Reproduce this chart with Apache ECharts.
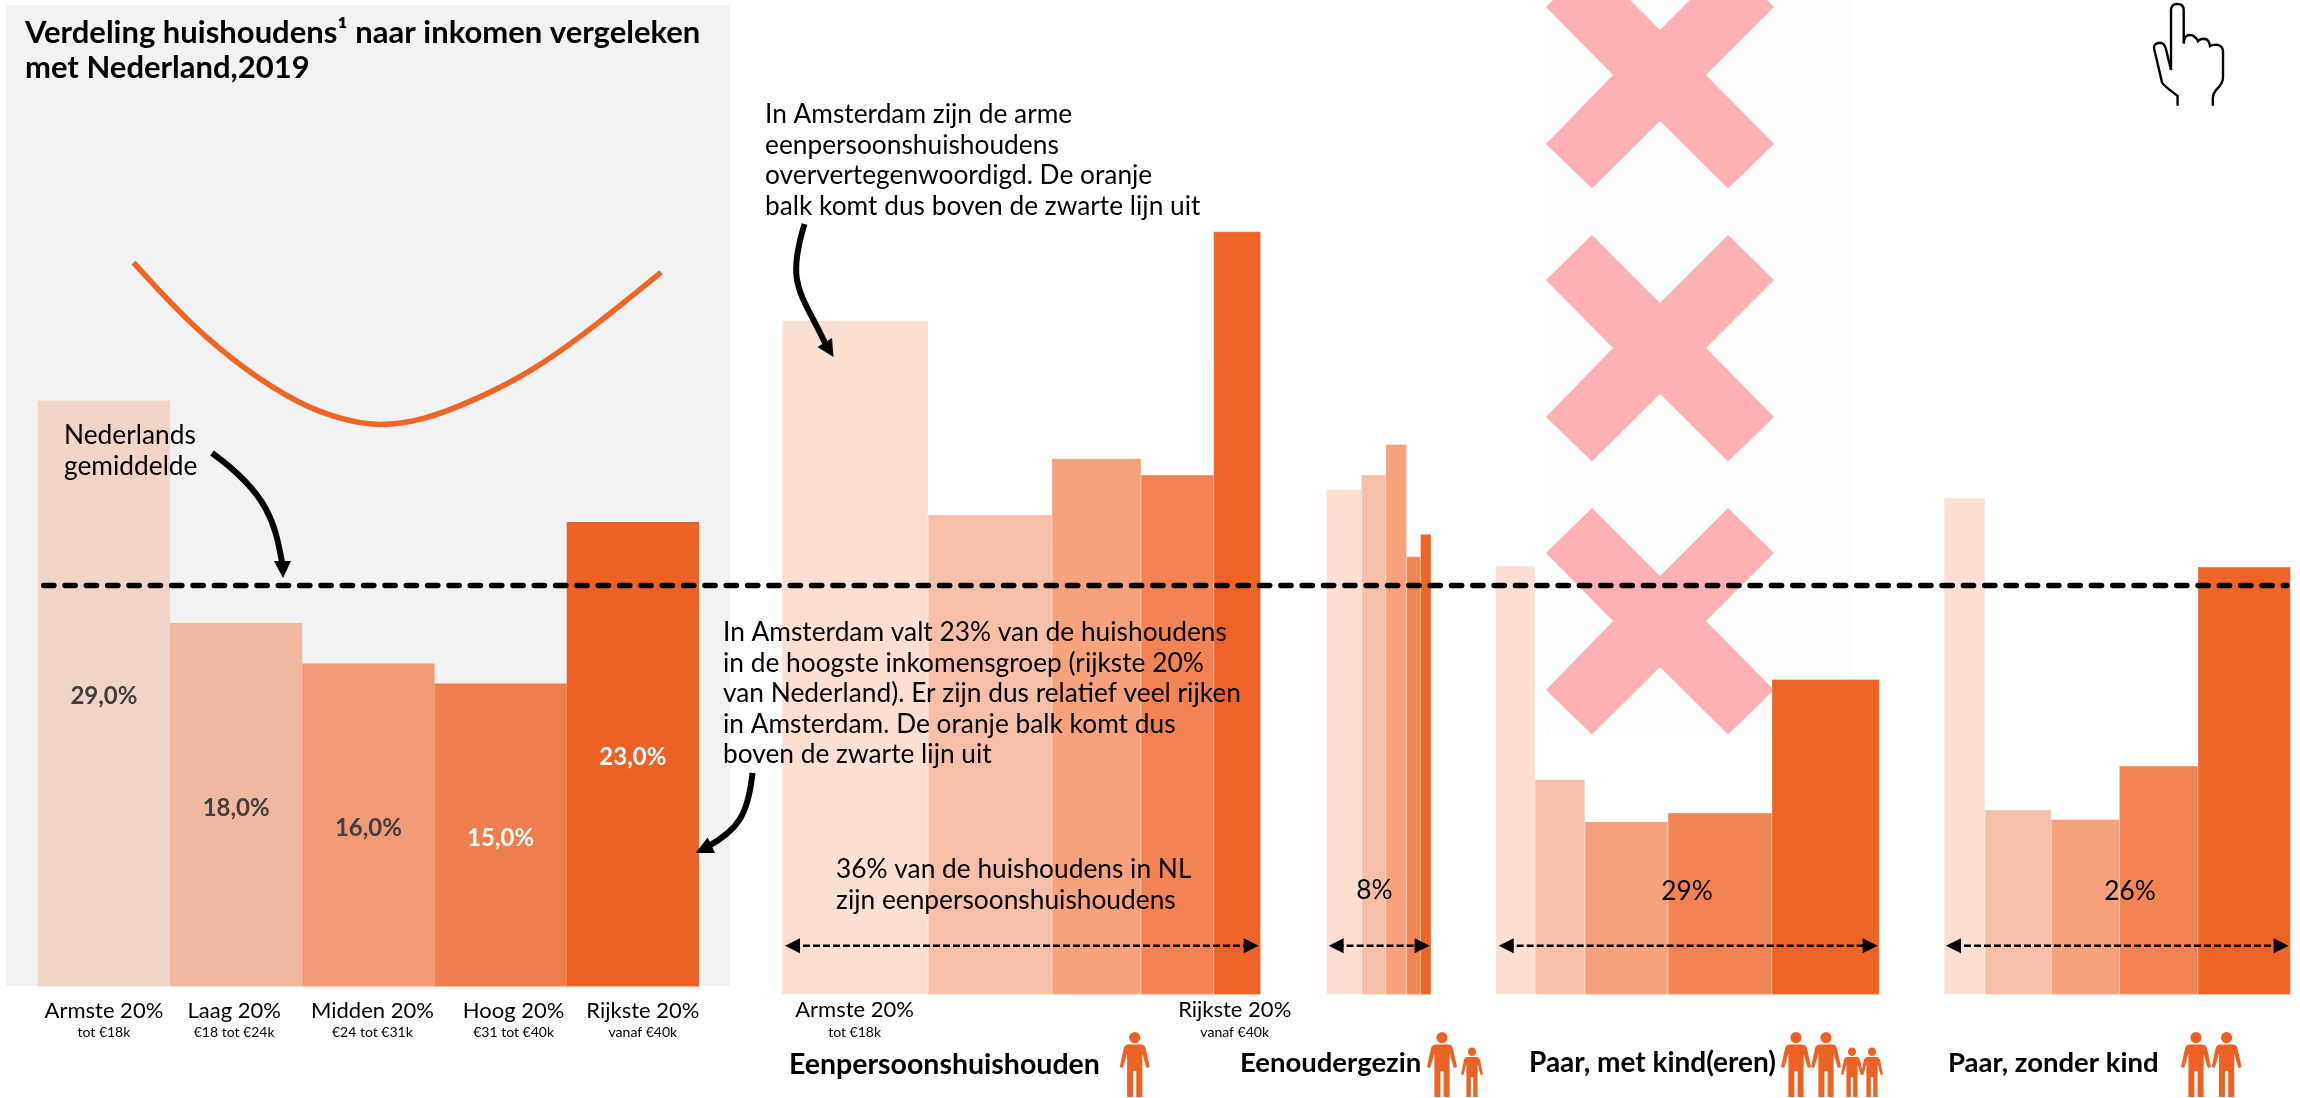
<!DOCTYPE html>
<html>
<head>
<meta charset="utf-8">
<script src="https://cdn.jsdelivr.net/npm/echarts@6/dist/echarts.min.js"></script>
<style>
  html, body { margin: 0; padding: 0; background: #fff; }
  #chart { width: 2300px; height: 1098px; }
</style>
</head>
<body>
<div id="chart"></div>
<script>
// data
const categories = ['Armste 20%', 'Laag 20%', 'Midden 20%', 'Hoog 20%', 'Rijkste 20%']
const incomeRanges = ['tot €18k', '€18 tot €24k', '€24 tot €31k', '€31 tot €40k', 'vanaf €40k']
const nlValues = [29, 18, 16, 15, 23]
const nlAverage = 20

// the orange curve in the grey panel: x in bar units, y in %
const curveX = [0.724, 1.162, 1.567, 1.971, 2.296, 2.593, 2.917, 3.32, 3.73, 4.133, 4.713]
const curveY = [35.84, 32.84, 30.61, 28.95, 28.13, 27.83, 28.13, 29.12, 30.52, 32.34, 35.36]

// bar width = share within the household type, bar height = value
const eenpersoonWidths = [30.5, 25.9, 18.6, 15.2, 9.8]
const eenpersoonValues = [32.95, 23.45, 26.2, 25.4, 37.3]
const eenouderWidths = [33.5, 23.2, 19.9, 13.4, 10]
const eenouderValues = [24.7, 25.4, 26.9, 21.4, 22.5]
const metKindWidths = [10.2, 13, 21.7, 27.1, 28]
const metKindValues = [20.95, 10.5, 8.45, 8.87, 15.4]
const zonderKindWidths = [11.8, 19.1, 19.7, 22.7, 26.7]
const zonderKindValues = [24.27, 9.02, 8.56, 11.17, 20.9]

const nlColors = ['#F1D4C8', '#F1B8A0', '#F09A76', '#EE7E4E', '#EC6225']
const typeColors = ['#FCDFD3', '#F8BFA7', '#F5A27D', '#F28354', '#EE6326']
const labelColors = ['#404040', '#404040', '#404040', '#fff', '#fff']
const labelShift = [0, -2, 4, 13, 10]

const FONT = 'Lato, "Open Sans", sans-serif'
const BLACK = '#000'
const ORANGE = '#EC6225'

function buildRows(widths, values) {
  let start = 0
  return widths.map((w, i) => {
    const row = [start, start + w, values[i]]
    start += w
    return row
  })
}

function renderRect(params, api) {
  const p0 = api.coord([api.value(0), api.value(2)])
  const p1 = api.coord([api.value(1), 0])
  return {
    type: 'rect',
    shape: { x: p0[0], y: p0[1], width: p1[0] - p0[0], height: p1[1] - p0[1] },
    style: { fill: typeColors[params.dataIndex], stroke: 'rgba(255,255,255,0.35)', lineWidth: 1 },
  }
}

// graphic helpers
function text(lines, x, y, opt = {}) {
  const step = opt.step || 30.4
  return [].concat(lines).map((line, i) => ({
    type: 'text',
    z: 100,
    style: {
      text: line,
      x: x,
      y: y + i * step,
      align: opt.align || 'left',
      verticalAlign: 'middle',
      fill: opt.fill || BLACK,
      font: (opt.weight || 'normal') + ' ' + (opt.size || 26.3) + 'px ' + FONT,
    },
  }))
}

function curveArrow(x1, y1, c1x, c1y, c2x, c2y, x2, y2, head) {
  return [
    {
      type: 'bezierCurve',
      z: 90,
      shape: { x1, y1, cpx1: c1x, cpy1: c1y, cpx2: c2x, cpy2: c2y, x2, y2 },
      style: { stroke: BLACK, lineWidth: 6, fill: null },
    },
    { type: 'polygon', z: 90, shape: { points: head }, style: { fill: BLACK } },
  ]
}

function spanArrow(x1, x2, y) {
  return [
    {
      type: 'line',
      z: 90,
      shape: { x1: x1 + 8, y1: y, x2: x2 - 8, y2: y },
      style: { stroke: BLACK, lineWidth: 2.6, lineDash: [7, 3] },
    },
    { type: 'polygon', z: 90, shape: { points: [[x1, y], [x1 + 15, y - 7.5], [x1 + 15, y + 7.5]] }, style: { fill: BLACK } },
    { type: 'polygon', z: 90, shape: { points: [[x2, y], [x2 - 15, y - 7.5], [x2 - 15, y + 7.5]] }, style: { fill: BLACK } },
  ]
}

function cross(cx, cy) {
  const pts = [
    [0, -45], [68, -113], [114, -68], [46, 0], [114, 69], [68, 113.5],
    [0, 46], [-68, 113.5], [-114, 69], [-47, 0], [-114, -68], [-68, -113],
  ]
  return {
    type: 'polygon',
    z: 1,
    shape: { points: pts.map((p) => [cx + p[0], cy + p[1]]) },
    style: { fill: '#FFB0B4' },
  }
}

const PERSON_PATH =
  'M15 0a5.6 5.6 0 1 0 0.01 0ZM9 12.5L21 12.5Q25 12.5 26 16.5L30 35L26.8 36L22.6 21.5L22.6 65L16.6 65L16.6 39L13.4 39L13.4 65L7.4 65L7.4 21.5L3.2 36L0 35L4 16.5Q5 12.5 9 12.5Z'

// pictograms under the household types: centre x, kid flag
const people = [
  [1134.7, 0], [1442, 0], [1472, 1],
  [1796, 0], [1826, 0], [1852, 1], [1872, 1],
  [2196, 0], [2226.6, 0],
]

function renderPerson(params, api) {
  const cx = api.value(0)
  const kid = api.value(1) === 1
  const w = kid ? 22 : 30
  const top = kid ? 1047.5 : 1032
  return {
    type: 'path',
    shape: { pathData: PERSON_PATH, layout: 'cover', x: cx - w / 2, y: top, width: w, height: 1097 - top },
    style: { fill: ORANGE },
  }
}

const HAND_PATHS = [
  { d: 'M2171 70L2171 10Q2171 4 2177.3 4Q2183.7 4 2183.7 10L2183.7 43.6Q2184 35 2189.8 35Q2195 35 2198 41.2Q2200 38.8 2204 38.8Q2209 39 2210 46Q2212 44.6 2216.8 44.6Q2223 46 2223 51L2223 77.6Q2223 84 2216 90Q2212.8 94 2212.8 98L2212.8 105.7', x: 2171, y: 4, w: 52, h: 101.7 },
  { d: 'M2171 70L2165.8 48.5Q2164 42.7 2160 42.7Q2153.5 43 2154 48.5L2162 82.4Q2163 85 2177.6 96L2177.6 105.7', x: 2154, y: 42.7, w: 23.6, h: 63 },
]

function renderHand(params) {
  const h = HAND_PATHS[params.dataIndex]
  return {
    type: 'path',
    shape: { pathData: h.d, layout: 'cover', x: h.x, y: h.y, width: h.w, height: h.h },
    style: { stroke: BLACK, lineWidth: 2.4, fill: null },
  }
}

const graphic = [
  // grey panel, faint flag background, crosses
  { type: 'rect', z: 0, shape: { x: 6, y: 5, width: 724, height: 981 }, style: { fill: '#F2F2F2' } },
  { type: 'rect', z: 0, shape: { x: 1546, y: 0, width: 306, height: 735 }, style: { fill: '#FDFDFD' } },
  cross(1660, 75),
  cross(1660, 348),
  cross(1660, 621),
]
  .concat(text(['Verdeling huishoudens¹ naar inkomen vergeleken', 'met Nederland,2019'], 25, 33, { size: 31, weight: 'bold', step: 35 }))
  .concat(text(['Nederlands', 'gemiddelde'], 64, 436))
  .concat(text(['In Amsterdam zijn de arme', 'eenpersoonshuishoudens', 'oververtegenwoordigd. De oranje', 'balk komt dus boven de zwarte lijn uit'], 765, 115))
  .concat(text(['In Amsterdam valt 23% van de huishoudens', 'in de hoogste inkomensgroep (rijkste 20%', 'van Nederland). Er zijn dus relatief veel rijken', 'in Amsterdam. De oranje balk komt dus', 'boven de zwarte lijn uit'], 723, 633))
  .concat(text(['36% van de huishoudens in NL', 'zijn eenpersoonshuishoudens'], 836, 870, { step: 31 }))
  .concat(text('8%', 1374.5, 891, { align: 'center' }))
  .concat(text('29%', 1687, 892, { align: 'center' }))
  .concat(text('26%', 2130, 892, { align: 'center' }))
  .concat(text(categories[0], 854.6, 1010, { align: 'center', size: 22 }))
  .concat(text(incomeRanges[0], 854.6, 1032, { align: 'center', size: 14 }))
  .concat(text(categories[4], 1234.7, 1010, { align: 'center', size: 22 }))
  .concat(text(incomeRanges[4], 1234.7, 1032, { align: 'center', size: 14 }))
  .concat(text('Eenpersoonshuishouden', 789, 1065, { size: 28.5, weight: 'bold' }))
  .concat(text('Eenoudergezin', 1240, 1063, { size: 27.5, weight: 'bold' }))
  .concat(text('Paar, met kind(eren)', 1529, 1063, { size: 28, weight: 'bold' }))
  .concat(text('Paar, zonder kind', 1948, 1063, { size: 27.5, weight: 'bold' }))
  .concat(curveArrow(212, 453, 270, 495, 275, 525, 282, 562, [[274, 561], [291, 561], [283, 578]]))
  .concat(curveArrow(804.5, 224, 786, 285, 800, 290, 826, 345, [[817.5, 347], [832, 338], [833.5, 357]]))
  .concat(curveArrow(752.5, 773, 748, 815, 738, 830, 707, 847, [[695.6, 853], [707.7, 837.5], [715, 853]]))
  .concat(spanArrow(785, 1258.7, 945.7))
  .concat(spanArrow(1328.6, 1429.6, 945.7))
  .concat(spanArrow(1498.7, 1877.6, 945.7))
  .concat(spanArrow(1946, 2288.6, 945.7))

const hidden = { show: false }
const typeGrids = [
  { left: 782.2, width: 478.4 },
  { left: 1326.5, width: 104.5 },
  { left: 1495.9, width: 383.4 },
  { left: 1944.2, width: 346.2 },
]
const typeRows = [
  buildRows(eenpersoonWidths, eenpersoonValues),
  buildRows(eenouderWidths, eenouderValues),
  buildRows(metKindWidths, metKindValues),
  buildRows(zonderKindWidths, zonderKindValues),
]

const option = {
  animation: false,
  backgroundColor: '#fff',
  graphic: { elements: graphic },
  grid: [
    { left: 37.8, width: 661.2, top: 17, height: 969.6 },
    ...typeGrids.map((g) => ({ left: g.left, width: g.width, top: 13, height: 981.4 })),
    { left: 43.6, right: 13, top: 13, height: 981.4 },
  ],
  xAxis: [
    {
      type: 'category',
      gridIndex: 0,
      data: categories.map((c, i) => ({ value: c, textStyle: { padding: [0, 0, 0, labelShift[i] * 2] } })),
      axisLine: hidden,
      axisTick: hidden,
      axisLabel: {
        interval: 0,
        margin: 12,
        fontFamily: FONT,
        formatter: (v, i) => '{a|' + v + '}\n{b|' + incomeRanges[i] + '}',
        rich: {
          a: { fontFamily: FONT, fontSize: 22, color: BLACK, lineHeight: 24 },
          b: { fontFamily: FONT, fontSize: 14, color: BLACK, lineHeight: 20 },
        },
      },
    },
    { type: 'value', gridIndex: 0, min: 0, max: 5, show: false },
    ...typeGrids.map((g, i) => ({ type: 'value', gridIndex: i + 1, min: 0, max: 100, show: false })),
    { type: 'value', gridIndex: 5, min: 0, max: 1, show: false },
  ],
  yAxis: [0, 1, 2, 3, 4, 5].map((i) => ({ type: 'value', gridIndex: i, min: 0, max: 48, show: false })),
  series: [
    {
      type: 'bar',
      xAxisIndex: 0,
      yAxisIndex: 0,
      barCategoryGap: 0,
      data: nlValues.map((v, i) => ({
        value: v,
        itemStyle: { color: nlColors[i] },
        label: { color: labelColors[i] },
      })),
      label: {
        show: true,
        position: 'inside',
        offset: [0, 3],
        fontFamily: FONT,
        fontWeight: 'bold',
        fontSize: 24,
        formatter: (p) => p.value.toFixed(1).replace('.', ',') + '%',
      },
    },
    {
      type: 'line',
      xAxisIndex: 1,
      yAxisIndex: 0,
      smooth: 0.34,
      showSymbol: false,
      symbol: 'none',
      lineStyle: { color: '#F06424', width: 5.5 },
      data: curveX.map((x, i) => [x, curveY[i]]),
      z: 3,
    },
    ...typeRows.map((rows, i) => ({
      type: 'custom',
      xAxisIndex: i + 2,
      yAxisIndex: i + 1,
      renderItem: renderRect,
      data: rows,
      encode: { x: [0, 1], y: 2 },
    })),
    {
      type: 'line',
      xAxisIndex: 6,
      yAxisIndex: 5,
      symbol: 'none',
      lineStyle: { color: BLACK, width: 5.3, type: [10.4, 10.93], cap: 'round' },
      data: [[0, nlAverage], [1, nlAverage]],
      z: 20,
    },
    { type: 'custom', coordinateSystem: 'none', renderItem: renderPerson, data: people, z: 90 },
    { type: 'custom', coordinateSystem: 'none', renderItem: renderHand, data: [0, 1], z: 90 },
  ],
}

const chart = echarts.init(document.getElementById('chart'))
chart.setOption(option)
</script>
</body>
</html>
